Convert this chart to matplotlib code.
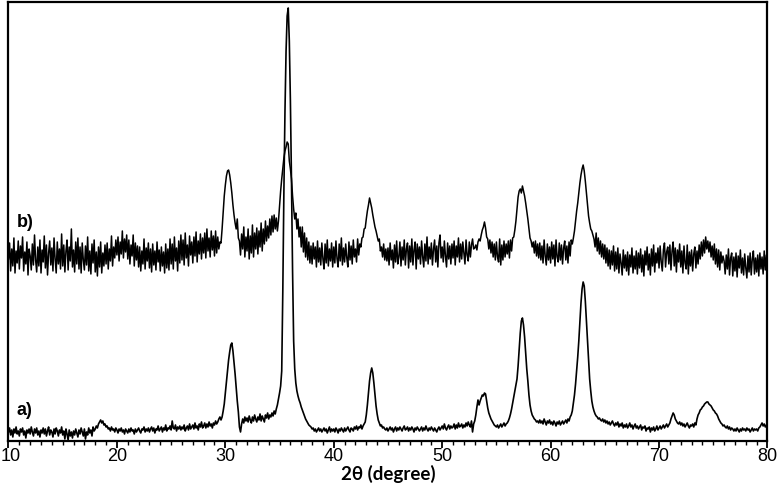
##----------Importing necessary packages-------------
import numpy as np
import matplotlib
matplotlib.use("Agg")
import matplotlib.pyplot as plt
import matplotlib.transforms as mtransforms
from matplotlib.ticker import MultipleLocator
##--------------------------------------------------

##-----------Data (2theta step 0.1, arbitrary intensity)---------
two_theta = np.round(np.arange(10.0, 80.05, 0.1), 1)

# pattern a) : one row per degree, values at d.0 ... d.9
pattern_a = [
    9, 13, 6, 11, 4, 12, 8, 14, 7, 10,            # 10
    5, 12, 9, 13, 6, 10, 3, 11, 8, 12,            # 11
    7, 14, 9, 5, 12, 8, 13, 6, 10, 4,             # 12
    11, 8, 13, 7, 12, 5, 10, 14, 6, 11,           # 13
    9, 4, 12, 7, 13, 10, 5, 11, 8, 14,            # 14
    6, 10, 2, 12, 7, 1, 11, 5, 9, 3,              # 15
    10, 6, 12, 8, 4, 11, 7, 13, 9, 5,             # 16
    12, 2, 9, 6, 13, 8, 11, 5, 14, 10,            # 17
    12, 15, 13, 17, 19, 21, 18, 20, 16, 17,       # 18
    14, 15, 12, 13, 10, 14, 11, 12, 9, 13,        # 19
    11, 8, 12, 10, 13, 9, 11, 7, 12, 10,          # 20
    8, 12, 9, 13, 10, 11, 7, 12, 9, 11,           # 21
    13, 10, 8, 12, 11, 14, 9, 12, 10, 13,         # 22
    9, 12, 14, 10, 13, 8, 12, 11, 15, 10,         # 23
    12, 14, 9, 13, 11, 16, 10, 13, 12, 15,        # 24
    11, 20, 13, 12, 16, 10, 14, 12, 15, 11,       # 25
    14, 12, 16, 10, 13, 15, 11, 17, 12, 14,       # 26
    16, 12, 18, 13, 15, 11, 17, 14, 19, 13,       # 27
    15, 18, 13, 17, 14, 19, 15, 17, 13, 18,       # 28
    16, 20, 17, 19, 22, 24, 21, 24, 30, 37,       # 29
    48, 60, 71, 81, 89, 96, 98, 90, 79, 67,       # 30
    53, 40, 29, 14, 9, 17, 22, 18, 24, 20,        # 31
    23, 19, 25, 21, 18, 24, 20, 26, 22, 19,       # 32
    24, 21, 27, 20, 25, 22, 19, 26, 23, 28,       # 33
    22, 26, 24, 28, 25, 30, 27, 32, 36, 42,       # 34
    48, 55, 70, 150, 250, 330, 390, 425, 433, 400,  # 35
    340, 260, 170, 100, 72, 58, 50, 45, 41, 38,   # 36
    34, 31, 28, 25, 22, 20, 18, 16, 15, 14,       # 37
    12, 13, 10, 12, 9, 11, 13, 10, 12, 9,         # 38
    11, 13, 10, 12, 8, 11, 14, 9, 12, 10,         # 39
    12, 9, 13, 11, 8, 12, 10, 13, 11, 9,          # 40
    13, 10, 12, 14, 11, 9, 13, 12, 10, 14,        # 41
    12, 15, 11, 14, 13, 16, 12, 15, 17, 19,       # 42
    26, 36, 48, 60, 68, 73, 68, 58, 46, 35,       # 43
    27, 21, 18, 15, 16, 13, 14, 12, 11, 13,       # 44
    10, 12, 14, 11, 13, 9, 12, 14, 10, 13,        # 45
    11, 14, 12, 10, 13, 15, 11, 12, 14, 10,       # 46
    13, 11, 14, 12, 9, 13, 11, 14, 12, 10,        # 47
    12, 14, 10, 13, 11, 15, 12, 10, 13, 11,       # 48
    14, 12, 10, 13, 11, 9, 12, 14, 11, 13,        # 49
    15, 12, 17, 13, 11, 14, 16, 12, 15, 13,       # 50
    14, 17, 12, 16, 13, 18, 14, 15, 17, 13,       # 51
    16, 14, 18, 15, 19, 16, 14, 20, 9, 17,        # 52
    20, 26, 34, 41, 36, 40, 43, 46, 45, 48,       # 53
    47, 40, 33, 28, 25, 22, 20, 18, 16, 15,       # 54
    14, 16, 13, 15, 17, 14, 16, 18, 15, 17,       # 55
    18, 20, 23, 27, 32, 38, 44, 50, 56, 62,       # 56
    75, 92, 108, 120, 123, 116, 104, 88, 72, 60,  # 57
    46, 36, 30, 26, 24, 22, 21, 19, 20, 18,       # 58
    21, 18, 20, 17, 22, 19, 16, 20, 18, 21,       # 59
    17, 19, 16, 20, 18, 15, 19, 17, 20, 16,       # 60
    18, 20, 17, 19, 21, 18, 22, 20, 24, 26,       # 61
    30, 38, 46, 57, 70, 84, 100, 120, 138, 152,   # 62
    159, 155, 140, 120, 100, 80, 62, 50, 40, 34,  # 63
    30, 27, 25, 24, 22, 23, 21, 20, 22, 19,       # 64
    21, 18, 20, 17, 19, 16, 18, 20, 17, 15,       # 65
    18, 16, 19, 14, 17, 15, 18, 13, 16, 14,       # 66
    17, 13, 15, 18, 14, 16, 12, 15, 17, 13,       # 67
    15, 12, 14, 16, 11, 14, 13, 15, 10, 13,       # 68
    12, 14, 9, 13, 11, 14, 10, 12, 15, 11,        # 69
    13, 15, 12, 14, 16, 13, 15, 17, 14, 16,       # 70
    18, 22, 25, 28, 26, 22, 20, 18, 17, 19,       # 71
    16, 18, 15, 17, 14, 16, 18, 15, 13, 16,       # 72
    15, 17, 14, 18, 16, 22, 26, 28, 31, 32,       # 73
    34, 35, 37, 38, 39, 39, 37, 36, 35, 33,       # 74
    31, 30, 28, 27, 25, 22, 20, 18, 17, 15,       # 75
    16, 14, 13, 15, 12, 14, 11, 13, 12, 10,       # 76
    12, 10, 13, 11, 9, 12, 10, 13, 11, 12,        # 77
    10, 13, 11, 12, 9, 11, 13, 10, 12, 11,        # 78
    12, 10, 13, 14, 16, 18, 15, 17, 14, 16,       # 79
    15,                                           # 80
]

# pattern b) : same grid
pattern_b = [
    182, 198, 170, 192, 175, 203, 168, 190, 178, 200,  # 10
    172, 195, 183, 204, 170, 189, 177, 199, 166, 192,  # 11
    185, 171, 197, 176, 206, 181, 169, 194, 175, 201,  # 12
    168, 191, 179, 205, 173, 196, 166, 188, 200, 176,  # 13
    193, 170, 203, 182, 168, 199, 177, 192, 172, 207,  # 14
    175, 196, 169, 190, 201, 171, 194, 180, 212, 174,  # 15
    191, 169, 199, 177, 203, 172, 194, 168, 198, 181,  # 16
    171, 195, 176, 204, 170, 190, 167, 197, 178, 201,  # 17
    169, 189, 165, 194, 174, 199, 168, 188, 175, 196,  # 18
    177, 198, 172, 192, 180, 205, 175, 194, 183, 201,  # 19
    186, 204, 180, 199, 187, 210, 183, 202, 189, 206,  # 20
    182, 201, 177, 196, 185, 206, 175, 198, 181, 195,  # 21
    174, 194, 170, 190, 177, 202, 172, 193, 180, 198,  # 22
    173, 192, 169, 197, 176, 190, 171, 199, 179, 191,  # 23
    170, 194, 175, 189, 168, 197, 173, 192, 171, 202,  # 24
    177, 197, 172, 204, 180, 193, 170, 200, 178, 206,  # 25
    181, 201, 176, 208, 183, 196, 175, 205, 186, 199,  # 26
    178, 204, 185, 209, 179, 200, 187, 207, 182, 203,  # 27
    188, 208, 183, 212, 190, 203, 184, 210, 191, 205,  # 28
    185, 210, 188, 204, 192, 199, 198, 212, 228, 245,  # 29
    256, 265, 270, 271, 266, 258, 248, 236, 226, 218,  # 30
    212, 222, 203, 200, 186, 207, 192, 214, 184, 204,  # 31
    190, 212, 182, 205, 188, 216, 184, 208, 192, 213,  # 32
    187, 210, 194, 218, 190, 212, 197, 220, 200, 215,  # 33
    203, 222, 206, 225, 209, 226, 212, 223, 210, 220,  # 34
    235, 250, 262, 272, 283, 290, 294, 299, 297, 280,  # 35
    272, 262, 245, 232, 222, 228, 212, 222, 204, 214,  # 36
    194, 214, 189, 208, 184, 203, 181, 199, 178, 195,  # 37
    177, 198, 182, 194, 174, 200, 179, 193, 176, 198,  # 38
    182, 172, 197, 178, 201, 175, 192, 180, 198, 174,  # 39
    194, 178, 200, 182, 174, 197, 180, 203, 176, 193,  # 40
    179, 197, 183, 174, 199, 181, 195, 177, 201, 184,  # 41
    192, 179, 202, 186, 197, 194, 203, 204, 212, 213,  # 42
    222, 230, 236, 243, 238, 233, 226, 220, 214, 210,  # 43
    205, 200, 202, 190, 194, 184, 197, 181, 192, 180,  # 44
    193, 176, 198, 181, 191, 173, 196, 179, 200, 177,  # 45
    184, 199, 175, 194, 181, 201, 176, 192, 198, 173,  # 46
    195, 179, 202, 176, 191, 199, 172, 197, 182, 194,  # 47
    177, 200, 184, 174, 197, 180, 204, 177, 194, 182,  # 48
    198, 176, 192, 201, 179, 195, 174, 198, 206, 183,  # 49
    194, 179, 200, 185, 174, 198, 182, 195, 177, 197,  # 50
    183, 200, 176, 195, 184, 203, 179, 197, 182, 199,  # 51
    188, 177, 201, 186, 180, 199, 184, 196, 202, 192,  # 52
    193, 196, 191, 199, 202, 200, 206, 211, 214, 219,  # 53
    213, 204, 202, 192, 201, 188, 199, 184, 197, 181,  # 54
    199, 184, 179, 202, 176, 196, 181, 200, 184, 197,  # 55
    187, 200, 183, 201, 190, 203, 204, 211, 220, 232,  # 56
    244, 250, 252, 248, 255, 250, 245, 238, 230, 222,  # 57
    212, 203, 200, 194, 199, 188, 200, 185, 197, 183,  # 58
    198, 181, 195, 178, 201, 185, 176, 197, 181, 194,  # 59
    178, 199, 182, 196, 175, 201, 184, 179, 198, 181,  # 60
    196, 177, 193, 200, 181, 195, 178, 199, 185, 201,  # 61
    197, 203, 210, 220, 230, 238, 248, 258, 266, 272,  # 62
    276, 270, 260, 248, 236, 225, 218, 212, 210, 206,  # 63
    202, 194, 208, 190, 203, 187, 200, 184, 197, 182,  # 64
    196, 178, 193, 175, 191, 172, 190, 176, 195, 170,  # 65
    189, 172, 193, 168, 187, 178, 166, 191, 173, 186,  # 66
    170, 189, 166, 186, 174, 193, 168, 185, 172, 190,  # 67
    167, 188, 173, 192, 169, 186, 165, 190, 176, 194,  # 68
    171, 187, 166, 192, 175, 196, 169, 188, 178, 193,  # 69
    173, 195, 179, 170, 191, 198, 174, 189, 194, 177,  # 70
    196, 171, 190, 199, 175, 193, 169, 191, 179, 197,  # 71
    174, 190, 168, 195, 178, 172, 196, 167, 189, 175,  # 72
    191, 170, 187, 194, 173, 190, 177, 196, 182, 199,  # 73
    185, 201, 188, 204, 192, 200, 189, 199, 184, 195,  # 74
    181, 197, 177, 192, 174, 191, 171, 189, 178, 185,  # 75
    180, 167, 186, 172, 192, 166, 183, 188, 165, 184,  # 76
    170, 188, 164, 185, 173, 191, 168, 183, 166, 187,  # 77
    173, 163, 185, 169, 188, 166, 182, 190, 167, 183,  # 78
    169, 186, 165, 188, 172, 184, 167, 190, 171, 186,  # 79
    177,                                               # 80
]

labels = ["a)", "b)"]
x_ticks = [10, 20, 30, 40, 50, 60, 70, 80]
##------------------------------------------------------------------------------

##------------------------------Plotting----------------------------------------
fig = plt.figure(figsize=(7.79, 4.87), dpi=100)
ax = fig.add_axes([0.0109, 0.0945, 0.9743, 0.9004])

ax.plot(two_theta, pattern_a, color="black", lw=1.2)
ax.plot(two_theta, pattern_b, color="black", lw=1.1)

ax.set_xlim(10, 80)
ax.set_ylim(0, 438.5)
ax.set_yticks([])

ax.xaxis.set_minor_locator(MultipleLocator(1))
ax.set_xticks(x_ticks)
ax.set_xticklabels([str(t) for t in x_ticks], fontsize=13, family="Liberation Sans")
ax.tick_params(axis="x", which="major", direction="out", length=5, width=1.3, pad=0)
ax.tick_params(axis="x", which="minor", direction="out", length=3, width=1.0)

# first label sits right at the figure edge, nudge it inside a little
first = ax.get_xticklabels()[0]
first.set_transform(first.get_transform() +
                    mtransforms.ScaledTranslation(2 / 100, 0, fig.dpi_scale_trans))

for s in ax.spines.values():
    s.set_linewidth(1.6)

# sample labels
ax.text(10.75, 30, labels[0], fontsize=13, fontweight="bold", family="Liberation Sans",
        ha="left", va="center")
ax.text(10.75, 218, labels[1], fontsize=13, fontweight="bold", family="Liberation Sans",
        ha="left", va="center")

ax.set_xlabel("2θ (degree)", fontsize=13.5, fontweight="bold", family="Lato", labelpad=0)

fig.savefig("out.png", dpi=100)
##------------------------------------------------------------------------------
